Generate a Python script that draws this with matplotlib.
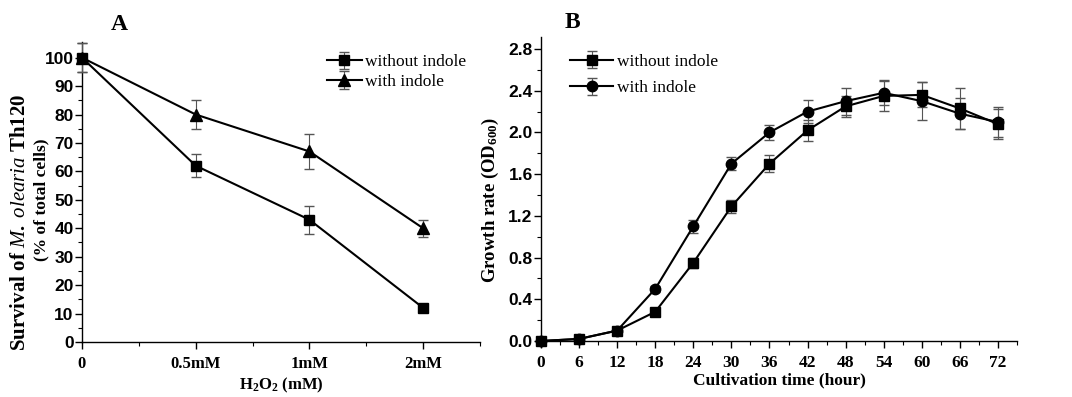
import matplotlib
matplotlib.use("Agg")
import matplotlib.pyplot as plt
from matplotlib.ticker import MultipleLocator, FormatStrFormatter, FixedLocator

plt.rcParams['mathtext.fontset'] = 'custom'
plt.rcParams['mathtext.rm'] = 'Liberation Serif:bold'
plt.rcParams['mathtext.it'] = 'Liberation Serif:italic'
plt.rcParams['mathtext.bf'] = 'Liberation Serif:bold'

# ---------------- Data: panel A ----------------
a_categories = ['0', '0.5mM', '1mM', '2mM']
a_without = [100, 62, 43, 12]
a_without_err = [5, 4, 5, 1]
a_with = [100, 80, 67, 40]
a_with_err = [5, 5, 6, 3]

# ---------------- Data: panel B ----------------
b_hours = [0, 6, 12, 18, 24, 30, 36, 42, 48, 54, 60, 66, 72]
b_without = [0.0, 0.02, 0.10, 0.28, 0.75, 1.29, 1.70, 2.02, 2.25, 2.35, 2.36, 2.23, 2.08]
b_without_err = [0.0, 0.01, 0.02, 0.02, 0.05, 0.06, 0.08, 0.10, 0.10, 0.14, 0.12, 0.20, 0.14]
b_with = [0.0, 0.02, 0.10, 0.50, 1.10, 1.70, 2.00, 2.20, 2.30, 2.38, 2.30, 2.18, 2.10]
b_with_err = [0.0, 0.01, 0.02, 0.03, 0.06, 0.06, 0.07, 0.11, 0.13, 0.12, 0.18, 0.15, 0.14]

W, H = 1072, 397
fig = plt.figure(figsize=(W / 100, H / 100), dpi=100)

serif = 'Liberation Serif'
sans = 'Liberation Sans'
ecol = '#555555'

def style_axes(ax):
    ax.spines['top'].set_visible(False)
    ax.spines['right'].set_visible(False)
    for s in ('left', 'bottom'):
        ax.spines[s].set_linewidth(1.0)
    ax.tick_params(axis='x', which='major', direction='out', length=5, width=1.0, pad=5)
    ax.tick_params(axis='y', which='major', direction='out', length=5, width=1.0, pad=1)
    ax.tick_params(which='minor', direction='out', length=3, width=0.8)

# ---------------- Panel A ----------------
axA = fig.add_axes([82 / W, 1 - 342 / H, (480 - 82) / W, 300 / H])
xA = list(range(len(a_categories)))
axA.errorbar(xA, a_without, yerr=a_without_err, color='black', lw=1.5,
             marker='s', ms=7, ecolor=ecol, elinewidth=0.8, capsize=3.5,
             label='without indole', zorder=3)
axA.errorbar(xA, a_with, yerr=a_with_err, color='black', lw=1.5,
             marker='^', ms=8.5, ecolor=ecol, elinewidth=0.8, capsize=3.5,
             label='with indole', zorder=3)
axA.set_xlim(0, 3.5)
axA.set_ylim(0, 105.5)
axA.set_xticks(xA)
axA.set_xticklabels(a_categories, fontfamily=serif, fontweight='bold', fontsize=12)
axA.xaxis.set_minor_locator(FixedLocator([0.5, 1.5, 2.5, 3.5]))
axA.yaxis.set_major_locator(MultipleLocator(10))
axA.yaxis.set_minor_locator(MultipleLocator(5))
for lab in axA.get_yticklabels():
    lab.set_fontfamily(sans); lab.set_fontweight('bold'); lab.set_fontsize(12.5)
style_axes(axA)
axA.set_xlabel(r'H$_2$O$_2$ (mM)', fontfamily=serif, fontweight='bold', fontsize=12, labelpad=3)
fig.text(20 / W, 1 - 222 / H, 'Survival of $\\mathit{M.\\ olearia}$ Th120', rotation=90,
         fontfamily=serif, fontweight='bold', fontsize=15, ha='center', va='center')
fig.text(41 / W, 1 - 200 / H, '(% of total cells)', rotation=90,
         fontfamily=serif, fontweight='bold', fontsize=12.5, ha='center', va='center')
for line in axA.get_lines():
    line.set_clip_on(False)
axA.legend(loc='upper left', bbox_to_anchor=(0.585, 1.0), frameon=False,
           prop={'family': serif, 'size': 12.5}, handlelength=2.0,
           handletextpad=0.2, labelspacing=0.2, borderaxespad=0.3)
fig.text(119 / W, 1 - 25 / H, 'A', fontfamily=serif, fontweight='bold',
         fontsize=17, ha='center', va='center')

# ---------------- Panel B ----------------
axB = fig.add_axes([541 / W, 1 - 341 / H, (1017 - 541) / W, 304 / H])
axB.errorbar(b_hours, b_without, yerr=b_without_err, color='black', lw=1.5,
             marker='s', ms=7, ecolor=ecol, elinewidth=0.8, capsize=3.5,
             label='without indole', zorder=3)
axB.errorbar(b_hours, b_with, yerr=b_with_err, color='black', lw=1.5,
             marker='o', ms=7.5, ecolor=ecol, elinewidth=0.8, capsize=3.5,
             label='with indole', zorder=3)
axB.set_xlim(0, 75)
axB.set_ylim(0, 2.915)
axB.xaxis.set_major_locator(MultipleLocator(6))
axB.xaxis.set_minor_locator(MultipleLocator(3))
axB.yaxis.set_major_locator(FixedLocator([0.0, 0.4, 0.8, 1.2, 1.6, 2.0, 2.4, 2.8]))
axB.yaxis.set_minor_locator(FixedLocator([0.2, 0.6, 1.0, 1.4, 1.8, 2.2, 2.6]))
axB.yaxis.set_major_formatter(FormatStrFormatter('%.1f'))
for lab in axB.get_xticklabels():
    lab.set_fontfamily(serif); lab.set_fontweight('bold'); lab.set_fontsize(12.5)
for lab in axB.get_yticklabels():
    lab.set_fontfamily(sans); lab.set_fontweight('bold'); lab.set_fontsize(12.5)
style_axes(axB)
axB.set_xlabel('Cultivation time (hour)', fontfamily=serif, fontweight='bold', fontsize=12.5, labelpad=1)
fig.text(490 / W, 1 - 200 / H, r'Growth rate (OD$_{600}$)', rotation=90,
         fontfamily=serif, fontweight='bold', fontsize=13.5, ha='center', va='center')
for line in axB.get_lines():
    line.set_clip_on(False)
axB.legend(loc='upper left', bbox_to_anchor=(0.035, 0.985), frameon=False,
           prop={'family': serif, 'size': 12.5}, handlelength=2.5,
           handletextpad=0.2, labelspacing=0.6, borderaxespad=0.3)
fig.text(572 / W, 1 - 23 / H, 'B', fontfamily=serif, fontweight='bold',
         fontsize=17, ha='center', va='center')

fig.savefig('out.png', dpi=100)
